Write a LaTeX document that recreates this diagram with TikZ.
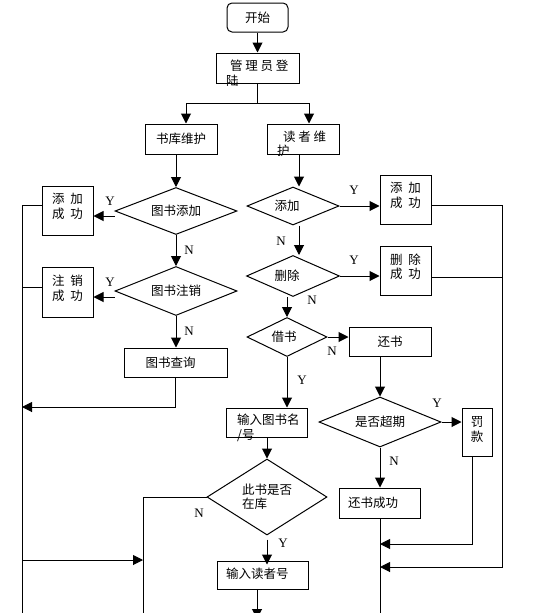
\documentclass[tikz,border=0pt]{standalone}
\usepackage{fontspec}
\setmainfont{Noto Sans CJK SC}
\newfontfamily\latf{Liberation Serif}
\usetikzlibrary{arrows.meta,shapes.geometric}
\newcommand\gp{\hspace{0.45em}}
\newcommand\gq{\hspace{0.22em}}
\begin{document}
\begin{tikzpicture}[x=1pt,y=-1pt,
  every node/.style={font=\fontsize{12.5}{14.5}\selectfont, inner sep=0pt},
  ln/.style={line width=1pt},
  arr/.style={line width=1pt, -{Triangle[length=10pt,width=10pt]}},
  box/.style={draw, line width=1pt, rectangle},
  dia/.style={draw, diamond, line width=1pt, aspect=2.6},
  txt/.style={align=left, anchor=west},
  yn/.style={font=\latf\fontsize{13}{13}\selectfont}]
\useasboundingbox (0,0) rectangle (534,613);
\clip (0,0) rectangle (534,613);

% ---------- nodes ----------
\node[box, rounded corners=5pt, minimum width=61pt, minimum height=29pt] (start) at (257.5,17.5) {开始};
\node[box, minimum width=83pt, minimum height=30pt] (login) at (257.5,68) {};
\node[txt] (loginT) at (226,73) {\hspace*{4pt}管\gq 理\gq 员\gq 登\\陆};
\node[box, minimum width=72pt, minimum height=30pt] (lib) at (181,139) {书库维护};
\node[box, minimum width=72pt, minimum height=30pt] (rdr) at (303,139) {};
\node[txt] (rdrT) at (277,144) {\hspace*{6pt}读\gq 者\gq 维\\护};

\node[dia, minimum width=122pt, minimum height=47pt] (d1) at (176,211) {图书添加};
\node[box, minimum width=51pt, minimum height=49pt, align=center, text depth=9pt] (ok1) at (67.5,210.5) {添\gp 加\\成\gp 功};
\node[dia, minimum width=122pt, minimum height=49pt] (d2) at (176,291) {图书注销};
\node[box, minimum width=51pt, minimum height=50pt, align=center, text depth=9pt] (ok2) at (67.5,292) {注\gp 销\\成\gp 功};
\node[box, minimum width=103pt, minimum height=29pt] (q) at (175.5,362.5) {图书查询\hspace*{10pt}};

\node[dia, minimum width=92pt, minimum height=38pt] (d3) at (293,206) {添加\hspace*{12pt}};
\node[box, minimum width=51pt, minimum height=49pt, align=center, text depth=9pt] (ok3) at (405.5,199.5) {添\gp 加\\成\gp 功};
\node[dia, minimum width=93pt, minimum height=41pt] (d4) at (293,276) {删除\hspace*{12pt}};
\node[box, minimum width=51pt, minimum height=49pt, align=center, text depth=9pt] (ok4) at (405.5,270.5) {删\gp 除\\成\gp 功};
\node[dia, minimum width=80pt, minimum height=39pt] (d5) at (287,337) {借书\hspace*{6pt}};
\node[box, minimum width=82pt, minimum height=29pt] (ret) at (390,341.5) {还书};

\node[box, minimum width=81pt, minimum height=29pt] (inb) at (267,422.5) {};
\node[txt] (inbT) at (237,428) {输入图书名\\/号};
\node[dia, minimum width=120pt, minimum height=76pt, aspect=1.6, align=left] (d6) at (267,497) {此书是否\\在库};
\node[box, minimum width=91pt, minimum height=28pt] (rno) at (262.5,575) {};
\node[txt] (rnoT) at (226,574) {输入读者号};

\node[dia, minimum width=122pt, minimum height=50pt] (d7) at (380,422) {是否超期};
\node[box, minimum width=30pt, minimum height=48pt, align=center, text depth=6pt] (fine) at (477,432) {罚\\款};
\node[box, minimum width=81pt, minimum height=30pt] (rok) at (379.5,503) {};
\node[txt] (rokT) at (348,503) {还书成功};

% ---------- labels ----------
\node[yn] (y1) at (110,201) {Y};
\node[yn] (n1) at (189,250) {N};
\node[yn] (y2) at (110,282) {Y};
\node[yn] (n2) at (189,331) {N};
\node[yn] (y3) at (354,190) {Y};
\node[yn] (n3) at (281,241) {N};
\node[yn] (y4) at (354,260) {Y};
\node[yn] (n4) at (312,300) {N};
\node[yn] (n5) at (332,351) {N};
\node[yn] (y5) at (302,380) {Y};
\node[yn] (y6) at (437,403) {Y};
\node[yn] (n6) at (394,461) {N};
\node[yn] (n7) at (199,513) {N};
\node[yn] (y7) at (283,543) {Y};

% ---------- coordinates ----------
\coordinate (br) at (257.5,103);
\coordinate (Ltop) at (22,205);
\coordinate (L2) at (22,287);
\coordinate (Lq) at (22,407);
\coordinate (La) at (22,560);
\coordinate (Lbot) at (22,616);
\coordinate (Ma) at (143,560);
\coordinate (Mbot) at (143,616);
\coordinate (Rtop) at (502,205);
\coordinate (R2) at (502,277);
\coordinate (Rb) at (502,567);
\coordinate (Rarr) at (380,567);
\coordinate (Fa) at (380,544);
\coordinate (Rbot) at (380,616);
\coordinate (Ebot) at (257,619);

% ---------- connectors ----------
\draw[arr] (start) -- (login);
\draw[ln] (login.south) -- (br);
\draw[arr] (br) -| ([xshift=5pt]lib.north);
\draw[arr] (br) -| ([xshift=6pt]rdr.north);

\draw[arr] ([xshift=-5pt]lib.south) -- (d1.north);
\draw[arr] ([yshift=-5pt]d1.west) -- ([yshift=-5pt]d1.west -| ok1.east);
\draw[arr] (d1) -- (d2);
\draw[arr] ([yshift=-6pt]d2.west) -- ([yshift=-6pt]d2.west -| ok2.east);
\draw[arr] (d2.south) -- (d2.south |- q.north);
\draw[arr] (q.south) |- (Lq);
\draw[ln] (ok1.west |- Ltop) -- (Ltop) -- (Lbot);
\draw[ln] (ok2.west |- L2) -- (L2);
\draw[arr] (La) -- (Ma);
\draw[ln] (d6.west) -| (Mbot);

\draw[arr] ([xshift=-4pt]rdr.south) -- ([xshift=-4pt]rdr.south |- d3.north);
\draw[arr] (d3.east) -- (d3.east -| ok3.west);
\draw[arr] (ok3.east |- Rtop) -- (Rtop) -- (Rb) -- (Rarr);
\draw[ln] (ok4.east |- R2) -- (R2);
\draw[arr] ([xshift=6pt]d3.south) -- ([xshift=6pt]d3.south |- d4.north);
\draw[arr] (d4.east) -- (d4.east -| ok4.west);
\draw[arr] (d4.south -| d5.north) -- (d5.north);
\draw[arr] (d5.east) -- (d5.east -| ret.west);
\draw[arr] (d5.south) -- (d5.south |- inb.north);
\draw[arr] (d7.north |- ret.south) -- (d7.north);
\draw[arr] (inb.south) -- (d6.north);
\draw[arr] (d7.east) -- (d7.east -| fine.west);
\draw[arr] ([xshift=-5pt]fine.south) |- (Fa);
\draw[arr] (d7.south) -- (d7.south |- rok.north);
\draw[ln] (rok.south -| d7.south) -- (Rbot);
\draw[arr] ([yshift=-4pt]d6.south) -- ([yshift=-4pt]d6.south |- rno.north);
\draw[arr] ([xshift=-5.5pt]rno.south) -- (Ebot);
\end{tikzpicture}
\end{document}
